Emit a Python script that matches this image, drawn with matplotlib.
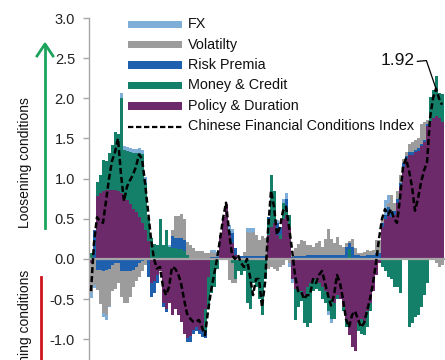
import numpy as np
import matplotlib.pyplot as plt
from matplotlib.patches import Rectangle
from matplotlib.lines import Line2D

plt.rcParams['font.family'] = ['Liberation Sans', 'DejaVu Sans']

# component contributions, one value per month
policy = [
    -0.05, 0, 0.78, 0.82, 0.85, 0.86, 0.86, 0.86, 0.86, 0.84,
    0.82, 0.78, 0.74, 0.68, 0.62, 0.58, 0.52, 0.45, 0.36, 0.22,
    -0.30, -0.28, -0.20, -0.15, -0.55, -0.62, -0.55, -0.70, -0.62, -0.70,
    -0.78, -0.93, -0.98, -0.96, -0.88, -0.85, -0.88, -0.90, -0.62, -0.22,
    0, 0, 0, 0.30, 0.52, 0.68, 0.30, 0.20, 0.05, 0,
    0, 0, 0, 0, 0, 0, 0, 0, 0, 0.30,
    0.40, 0.45, 0.30, 0.25, 0.50, 0.55, 0.40, -0.25, -0.38, -0.40,
    -0.40, -0.45, -0.35, -0.30, -0.25, -0.25, -0.30, -0.35, -0.40, -0.45,
    -0.50, -0.55, -0.45, -0.50, -0.60, -0.75, -0.95, -1.10, -1.15, -0.80,
    -0.75, -0.80, -0.65, -0.55, -0.40, -0.20, -0.05, 0.40, 0.50, 0.55,
    0.52, 0.55, 0.70, 0.90, 1.15, 1.25, 1.30, 1.30, 1.33, 1.35,
    1.40, 1.45, 1.65, 1.72, 1.75, 1.78, 1.75, 1.70]
money = [
    0.07, 0, 0.18, 0.23, 0.38, 0.36, 0.46, 0.56, 0.72, 0.72,
    1.18, 0.58, 0.60, 0.65, 0.70, 0.74, 0.80, 0.86, 0.58, 0.30,
    0.26, 0.18, 0.17, 0.50, 0.17, 0.36, 0.15, 0.14, 0.14, 0.12,
    0.12, 0.10, 0.05, 0, 0, 0, 0, 0, -0.30, -0.40,
    -0.42, -0.35, -0.12, 0, 0, 0, 0, -0.05, -0.25, -0.15,
    -0.20, -0.15, -0.55, -0.62, -0.30, -0.35, -0.50, -0.70, -0.25, 0.20,
    0.65, 0.40, 0, 0.05, 0.20, 0.05, 0.15, 0, -0.38, -0.20,
    -0.12, -0.35, -0.50, -0.50, -0.15, -0.12, -0.10, -0.15, -0.15, -0.20,
    -0.25, -0.20, -0.05, 0, -0.05, -0.10, 0.12, 0, 0, -0.10,
    -0.18, -0.15, -0.20, -0.10, 0, 0, 0, -0.10, -0.15, -0.22,
    -0.25, -0.35, -0.35, -0.42, 0, 0, -0.85, -0.80, -0.72, -0.70,
    -0.60, -0.45, -0.30, 0.30, 0.35, 0.50, 0.32, 0.35]
risk = [
    0, 0.36, -0.14, -0.14, -0.15, -0.14, -0.12, -0.08, -0.05, -0.05,
    -0.15, -0.15, -0.15, -0.15, -0.14, -0.10, -0.05, -0.03, 0, -0.22,
    -0.17, -0.15, -0.10, 0, -0.05, -0.04, 0, 0.14, 0.12, 0.14,
    0.14, 0.14, -0.06, -0.08, -0.06, -0.05, -0.06, -0.07, -0.06, 0,
    0.03, 0.03, 0.03, 0, 0, 0, 0.05, 0.12, 0.08, 0.04,
    0.04, 0.04, 0.04, 0.04, 0.04, 0.04, 0.04, 0.04, 0.04, 0.02,
    0, 0, 0.15, 0.10, 0, 0.15, 0, 0.03, 0.04, 0.04,
    0.04, 0.04, 0.05, 0.05, 0.05, 0.05, 0.05, 0.05, 0.05, 0.05,
    0.05, 0.05, 0.05, 0.05, 0.05, 0.15, 0.08, 0.15, 0.05, 0.05,
    0.04, 0.04, 0.05, 0.05, 0.05, 0.08, 0.08, 0.05, 0.05, 0.10,
    0.08, 0.05, 0.05, 0.05, 0.05, 0.03, 0.03, 0.03, 0.03, 0.03,
    0.03, 0.03, 0.03, 0, 0, 0, 0, 0]
volatility = [
    -0.36, -0.33, -0.25, -0.42, -0.52, -0.56, -0.46, -0.32, -0.33, -0.25,
    -0.32, -0.40, -0.40, -0.32, -0.21, -0.18, -0.17, -0.12, -0.08, 0,
    0, 0, 0, 0, 0, 0, 0, 0.08, 0.28, 0.28,
    0.30, 0.26, 0.16, 0.17, 0.13, 0.10, 0.10, 0.10, 0.08, 0.08,
    0.06, 0.05, 0, 0, 0, 0, -0.26, -0.25, -0.05, 0,
    0, 0.05, 0.30, 0.28, 0.30, 0.26, 0.20, 0.24, 0.22, -0.12,
    -0.10, -0.12, -0.15, -0.10, -0.08, 0, -0.05, 0, 0.10, 0.15,
    0.20, 0.18, 0.12, 0.12, 0.10, 0.15, 0.17, 0.10, 0.20, 0.32,
    0.20, 0.15, 0.22, 0.12, 0.10, 0.05, 0.02, 0.10, 0.08, 0.03,
    0.04, 0.05, 0.06, 0.05, 0.06, 0.15, 0.16, 0.07, 0, 0.05,
    0.20, 0.10, 0.10, 0.10, 0.05, 0.05, 0.10, 0.12, 0.12, 0.12,
    0.25, 0.22, 0.05, 0, 0, -0.05, -0.10, -0.08]
fx = [
    -0.08, -0.03, 0, 0, -0.05, -0.06, -0.02, 0, 0, 0,
    0.06, 0.04, 0.05, 0.05, 0.05, 0.05, 0.06, 0.05, 0.08, 0,
    0, 0, 0, 0, 0, 0, 0.02, 0, 0, 0,
    0, 0, 0, 0, 0, 0, 0, 0, 0, 0,
    0.02, 0.03, 0.06, 0, 0, 0, 0.07, 0.05, 0, 0,
    0, 0, 0.04, 0.06, 0.04, 0, 0, 0, 0, 0,
    0, 0, 0.03, 0, 0.05, 0.07, -0.05, -0.05, 0, 0,
    0, 0, 0, 0, 0, 0, 0, 0, 0, -0.05,
    -0.05, 0, 0, 0, 0, 0, 0, 0, 0, 0,
    0, 0, 0, 0, 0, 0, 0, 0, 0.18, 0.10,
    0, 0, 0, 0, 0, 0, 0, 0, 0, 0,
    0, 0, 0, 0, 0, 0, 0, 0]
cfci = [
    -0.40, 0.20, 0.52, 0.47, 0.45, 0.72, 1.00, 1.22, 1.33, 1.50,
    1.05, 0.72, 0.90, 0.98, 1.05, 1.15, 1.30, 1.25, 0.95, 0.60,
    0.25, 0.00, -0.12, -0.10, -0.35, -0.45, -0.35, -0.10, -0.12, -0.18,
    -0.30, -0.50, -0.68, -0.74, -0.78, -0.78, -0.76, -0.85, -0.95, -0.65,
    -0.40, -0.20, 0.00, 0.24, 0.50, 0.70, 0.35, 0.05, 0.00, 0.05,
    -0.05, -0.10, 0.00, -0.22, -0.45, -0.25, -0.25, -0.60, -0.30, 0.35,
    0.85, 0.65, 0.30, 0.40, 0.60, 0.65, 0.40, 0.12, -0.20, -0.40,
    -0.40, -0.50, -0.45, -0.45, -0.25, -0.30, -0.20, -0.15, -0.30, -0.45,
    -0.58, -0.45, -0.20, -0.30, -0.50, -0.75, -0.85, -0.70, -0.65, -0.75,
    -0.85, -0.80, -0.65, -0.50, -0.30, -0.05, 0.25, 0.50, 0.62, 0.55,
    0.62, 0.50, 0.45, 0.75, 1.15, 1.25, 1.10, 0.90, 0.60, 0.75,
    0.95, 1.10, 1.20, 1.75, 2.00, 2.12, 2.00, 1.92]

labels = ['Policy & Duration', 'Money & Credit', 'Risk Premia', 'Volatilty', 'FX']
colors = ['#6C2A6A', '#15806A', '#1E5FAE', '#9C9C9C', '#7FAFD9']
series = [policy, money, risk, volatility, fx]

W, H = 445, 360
fig = plt.figure(figsize=(W / 100, H / 100), dpi=100)
# plot area is cropped on the right and bottom, like the source image
ax = fig.add_axes([89 / W, (H - 379.4) / H, 356 / W, 361.4 / H])

x = np.arange(len(cfci))
pos_bottom = np.zeros(len(x))
neg_bottom = np.zeros(len(x))
for vals, col in zip(series, colors):
    v = np.array(vals)
    pos = np.clip(v, 0, None)
    neg = np.clip(v, None, 0)
    ax.bar(x, pos, width=1.0, bottom=pos_bottom, color=col, linewidth=0, zorder=2)
    ax.bar(x, neg, width=1.0, bottom=neg_bottom, color=col, linewidth=0, zorder=2)
    pos_bottom += pos
    neg_bottom += neg

ax.axhline(0, color='#A6A6A6', lw=1.6, zorder=3)
ax.plot(x, cfci, color='black', lw=1.8, ls=(0, (2.4, 1.2)), zorder=4)

ax.set_xlim(-0.667, 118)
ax.set_ylim(-1.5, 3.0)
ax.set_yticks(np.arange(-1.0, 3.01, 0.5))
ax.set_yticklabels(['%.1f' % t for t in np.arange(-1.0, 3.01, 0.5)])
ax.tick_params(axis='y', length=4, width=1, color='#A6A6A6', pad=6,
               labelsize=10.5, labelcolor='#222222')
ax.set_xticks([])
for s in ['top', 'right', 'bottom']:
    ax.spines[s].set_visible(False)
ax.spines['left'].set_color('#A6A6A6')
ax.spines['left'].set_linewidth(1.0)
ax.patch.set_alpha(0)

# annotation of the latest value
pk = int(np.argmax(cfci))
ax.plot([pk - 6.2, pk - 3.2, pk], [cfci[pk] + 0.34, cfci[pk] + 0.35, cfci[pk]],
        color='black', lw=0.9, zorder=5)
ax.text(pk - 7.2, cfci[pk] + 0.35, '%.2f' % cfci[-1], ha='right', va='center',
        fontsize=12.5, color='#111111')

# legend drawn by hand (Excel style, long swatches)
leg_rows = [('FX', colors[4]), ('Volatilty', colors[3]), ('Risk Premia', colors[2]),
            ('Money & Credit', colors[1]), ('Policy & Duration', colors[0])]
row_y = [24.5, 44.5, 65, 85.5, 106]
for (lab, col), yy in zip(leg_rows, row_y):
    fig.add_artist(Rectangle((128 / W, 1 - (yy + 3.5) / H), 54 / W, 7 / H,
                             transform=fig.transFigure, color=col, lw=0))
    fig.text(188 / W, 1 - yy / H, lab, va='center', ha='left', fontsize=10.4, color='#111111')
fig.add_artist(Line2D([128 / W, 182 / W], [1 - 126.5 / H] * 2, transform=fig.transFigure,
                      color='black', lw=1.6, ls=(0, (2.4, 1.2))))
fig.text(188 / W, 1 - 126.5 / H, 'Chinese Financial Conditions Index', va='center',
         ha='left', fontsize=10.4, color='#111111')

# side labels with arrows
fig.text(25 / W, 1 - 163 / H, 'Loosening conditions', rotation=90, ha='center',
         va='center', fontsize=10, color='#111111')
fig.add_artist(Line2D([45 / W, 45 / W], [1 - 228 / H, 1 - 45 / H], transform=fig.transFigure,
                      color='#1BA35C', lw=2.0))
fig.add_artist(Line2D([37 / W, 45 / W, 53 / W], [1 - 56 / H, 1 - 44 / H, 1 - 56 / H],
                      transform=fig.transFigure, color='#1BA35C', lw=2.0))
fig.text(25 / W, 1 - 270 / H, 'Tightening conditions', rotation=90, ha='center',
         va='top', fontsize=10, color='#111111')
fig.add_artist(Line2D([41 / W, 41 / W], [1 - 277 / H, 0], transform=fig.transFigure,
                      color='#D0141E', lw=2.0))

fig.savefig('out.png', dpi=100)
